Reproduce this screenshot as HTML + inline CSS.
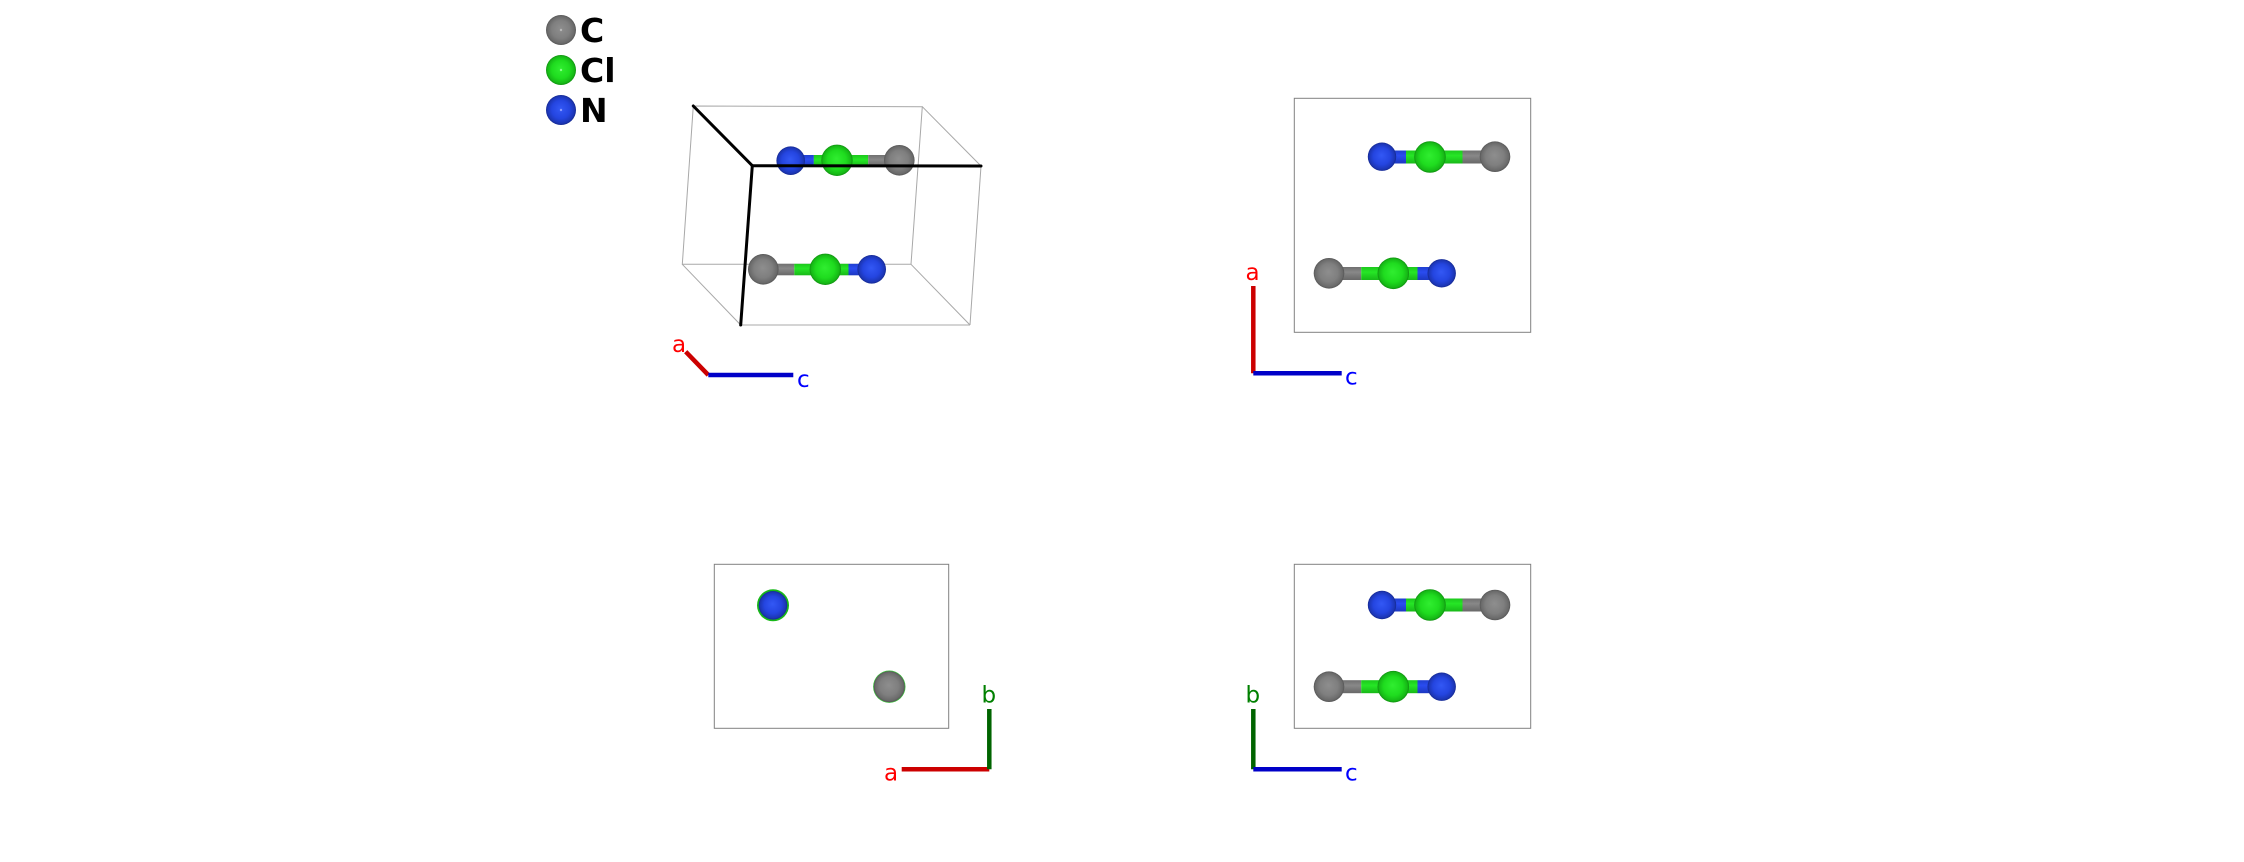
<!DOCTYPE html>
<html>
<head>
<meta charset="utf-8">
<style>
html,body{margin:0;padding:0;background:#fff;}
svg{display:block;}
</style>
</head>
<body>
<svg width="2244" height="862" viewBox="0 0 2244 862" xmlns="http://www.w3.org/2000/svg">
<defs>
  <radialGradient id="gC" cx="50%" cy="50%" r="50%" fx="48%" fy="45%">
    <stop offset="0" stop-color="#8e8e8e"/>
    <stop offset="0.6" stop-color="#7f7f7f"/>
    <stop offset="0.9" stop-color="#6a6a6a"/>
    <stop offset="1" stop-color="#555"/>
  </radialGradient>
  <radialGradient id="gCl" cx="50%" cy="50%" r="50%" fx="48%" fy="45%">
    <stop offset="0" stop-color="#30ee30"/>
    <stop offset="0.6" stop-color="#1fdc1f"/>
    <stop offset="0.9" stop-color="#16b816"/>
    <stop offset="1" stop-color="#0f8f0f"/>
  </radialGradient>
  <radialGradient id="gN" cx="50%" cy="50%" r="50%" fx="48%" fy="45%">
    <stop offset="0" stop-color="#3358f5"/>
    <stop offset="0.6" stop-color="#2445e0"/>
    <stop offset="0.9" stop-color="#1c36b5"/>
    <stop offset="1" stop-color="#142890"/>
  </radialGradient>
  <linearGradient id="bC" x1="0" y1="0" x2="0" y2="1">
    <stop offset="0" stop-color="#707070"/>
    <stop offset="0.4" stop-color="#888"/>
    <stop offset="1" stop-color="#686868"/>
  </linearGradient>
  <linearGradient id="bCl" x1="0" y1="0" x2="0" y2="1">
    <stop offset="0" stop-color="#1cc81c"/>
    <stop offset="0.4" stop-color="#26e626"/>
    <stop offset="1" stop-color="#18b818"/>
  </linearGradient>
  <linearGradient id="bN" x1="0" y1="0" x2="0" y2="1">
    <stop offset="0" stop-color="#2040d0"/>
    <stop offset="0.4" stop-color="#2a4cf0"/>
    <stop offset="1" stop-color="#1c38c0"/>
  </linearGradient>
</defs>

<!-- Legend -->
<g>
  <circle cx="561" cy="30" r="15" fill="url(#gC)"/>
  <circle cx="561" cy="30" r="1.2" fill="#b8b8b8"/>
  <circle cx="561" cy="70" r="15" fill="url(#gCl)"/>
  <circle cx="561" cy="70" r="1.2" fill="#8f8"/>
  <circle cx="561" cy="110" r="15" fill="url(#gN)"/>
  <circle cx="561" cy="110" r="1.2" fill="#89f"/>
  <g font-family="'DejaVu Sans', 'Liberation Sans', sans-serif" font-weight="bold" font-size="33" fill="#000">
    <text x="580" y="42">C</text>
    <text x="580" y="82">Cl</text>
    <text x="580" y="122">N</text>
  </g>
</g>

<!-- Panel 1: perspective cell -->
<g stroke="#a8a8a8" stroke-width="1" fill="none">
  <polygon points="693.3,106 922.3,106.7 911,264.3 682.3,264.3"/>
  <line x1="922.3" y1="106.7" x2="981" y2="166"/>
  <line x1="682.3" y1="264.3" x2="740.7" y2="325"/>
  <line x1="911" y1="264.3" x2="970" y2="325"/>
  <line x1="740.7" y1="325" x2="970" y2="325"/>
  <line x1="981" y1="166" x2="970" y2="325"/>
</g>
<!-- top molecule panel1 -->
<g>
  <rect x="790.7" y="155" width="23.2" height="11.5" fill="url(#bN)"/>
  <rect x="813.8" y="155" width="23.2" height="11.5" fill="url(#bCl)"/>
  <rect x="837" y="155" width="31.2" height="11.5" fill="url(#bCl)"/>
  <rect x="868.2" y="155" width="31.2" height="11.5" fill="url(#bC)"/>
  <circle cx="790.7" cy="160.7" r="14.3" fill="url(#gN)"/>
  <circle cx="837" cy="160.3" r="15.7" fill="url(#gCl)"/>
  <circle cx="899.3" cy="160.3" r="15.3" fill="url(#gC)"/>
</g>
<!-- bottom molecule panel1 -->
<g>
  <rect x="763.3" y="263.8" width="31" height="11.5" fill="url(#bC)"/>
  <rect x="794.3" y="263.8" width="31" height="11.5" fill="url(#bCl)"/>
  <rect x="825.3" y="263.8" width="23.2" height="11.5" fill="url(#bCl)"/>
  <rect x="848.5" y="263.8" width="23.2" height="11.5" fill="url(#bN)"/>
  <circle cx="763.3" cy="269.3" r="15.3" fill="url(#gC)"/>
  <circle cx="825.3" cy="269.3" r="15.7" fill="url(#gCl)"/>
  <circle cx="871.7" cy="269.3" r="14.3" fill="url(#gN)"/>
</g>
<g stroke="#000" stroke-width="3" fill="none" stroke-linecap="round">
  <line x1="693.3" y1="106" x2="752.3" y2="165.7"/>
  <line x1="752.3" y1="165.7" x2="981" y2="166"/>
  <line x1="752.3" y1="165.7" x2="740.7" y2="325"/>
</g>
<!-- axes panel1 -->
<g stroke-width="4.5" fill="none">
  <line x1="708.3" y1="375" x2="685.7" y2="351.7" stroke="#cc0000"/>
  <line x1="708.3" y1="375" x2="793.3" y2="375" stroke="#0000c8"/>
</g>
<g font-family="'DejaVu Sans', 'Liberation Sans', sans-serif" font-size="23">
  <text x="672" y="352" fill="#ff0000">a</text>
  <text x="797" y="387" fill="#0000ff">c</text>
</g>

<!-- Panel 2: a-c view -->
<rect x="1294.3" y="98.3" width="236.4" height="234" fill="none" stroke="#808080" stroke-width="1"/>
<g>
  <rect x="1382" y="150.5" width="24" height="13" fill="url(#bN)"/>
  <rect x="1406" y="150.5" width="24" height="13" fill="url(#bCl)"/>
  <rect x="1430" y="150.5" width="32.5" height="13" fill="url(#bCl)"/>
  <rect x="1462.5" y="150.5" width="32.5" height="13" fill="url(#bC)"/>
  <circle cx="1382" cy="156.7" r="14.2" fill="url(#gN)"/>
  <circle cx="1430" cy="157" r="15.8" fill="url(#gCl)"/>
  <circle cx="1495" cy="156.7" r="15.3" fill="url(#gC)"/>
</g>
<g>
  <rect x="1329" y="267" width="32.2" height="13" fill="url(#bC)"/>
  <rect x="1361.2" y="267" width="32.1" height="13" fill="url(#bCl)"/>
  <rect x="1393.3" y="267" width="24.2" height="13" fill="url(#bCl)"/>
  <rect x="1417.5" y="267" width="24.2" height="13" fill="url(#bN)"/>
  <circle cx="1329" cy="273.3" r="15.3" fill="url(#gC)"/>
  <circle cx="1393.3" cy="273.3" r="15.8" fill="url(#gCl)"/>
  <circle cx="1441.7" cy="273.3" r="14.2" fill="url(#gN)"/>
</g>
<g stroke-width="4.5" fill="none">
  <line x1="1253.3" y1="373.3" x2="1253.3" y2="286" stroke="#cc0000"/>
  <line x1="1253.3" y1="373.3" x2="1341.7" y2="373.3" stroke="#0000c8"/>
</g>
<g font-family="'DejaVu Sans', 'Liberation Sans', sans-serif" font-size="23">
  <text x="1245.5" y="280" fill="#ff0000">a</text>
  <text x="1345" y="384.5" fill="#0000ff">c</text>
</g>

<!-- Panel 3: a-b view -->
<rect x="714.3" y="564.3" width="234.4" height="164" fill="none" stroke="#808080" stroke-width="1"/>
<circle cx="773" cy="605.3" r="16" fill="#18b818"/>
<circle cx="773" cy="605.3" r="14.3" fill="url(#gN)"/>
<circle cx="889.3" cy="686.7" r="16.2" fill="#3cc03c"/>
<circle cx="889.3" cy="686.7" r="15.5" fill="url(#gC)"/>
<g stroke-width="4.5" fill="none">
  <line x1="989.3" y1="769.3" x2="901.7" y2="769.3" stroke="#cc0000"/>
  <line x1="989.3" y1="769.3" x2="989.3" y2="709" stroke="#006400"/>
</g>
<g font-family="'DejaVu Sans', 'Liberation Sans', sans-serif" font-size="23">
  <text x="884" y="780.5" fill="#ff0000">a</text>
  <text x="981.5" y="702.5" fill="#008000">b</text>
</g>

<!-- Panel 4: b-c view -->
<rect x="1294.3" y="564.3" width="236.4" height="164" fill="none" stroke="#808080" stroke-width="1"/>
<g>
  <rect x="1382" y="598.5" width="24" height="13" fill="url(#bN)"/>
  <rect x="1406" y="598.5" width="24" height="13" fill="url(#bCl)"/>
  <rect x="1430" y="598.5" width="32.5" height="13" fill="url(#bCl)"/>
  <rect x="1462.5" y="598.5" width="32.5" height="13" fill="url(#bC)"/>
  <circle cx="1382" cy="605" r="14.2" fill="url(#gN)"/>
  <circle cx="1430" cy="605" r="15.8" fill="url(#gCl)"/>
  <circle cx="1495" cy="605" r="15.3" fill="url(#gC)"/>
</g>
<g>
  <rect x="1329" y="680.2" width="32.2" height="13" fill="url(#bC)"/>
  <rect x="1361.2" y="680.2" width="32.1" height="13" fill="url(#bCl)"/>
  <rect x="1393.3" y="680.2" width="24.2" height="13" fill="url(#bCl)"/>
  <rect x="1417.5" y="680.2" width="24.2" height="13" fill="url(#bN)"/>
  <circle cx="1329" cy="686.7" r="15.3" fill="url(#gC)"/>
  <circle cx="1393.3" cy="686.7" r="15.8" fill="url(#gCl)"/>
  <circle cx="1441.7" cy="686.7" r="14.2" fill="url(#gN)"/>
</g>
<g stroke-width="4.5" fill="none">
  <line x1="1253.3" y1="769.3" x2="1253.3" y2="709" stroke="#006400"/>
  <line x1="1253.3" y1="769.3" x2="1341.7" y2="769.3" stroke="#0000c8"/>
</g>
<g font-family="'DejaVu Sans', 'Liberation Sans', sans-serif" font-size="23">
  <text x="1245.5" y="702.5" fill="#008000">b</text>
  <text x="1345" y="780.5" fill="#0000ff">c</text>
</g>
</svg>
</body>
</html>
